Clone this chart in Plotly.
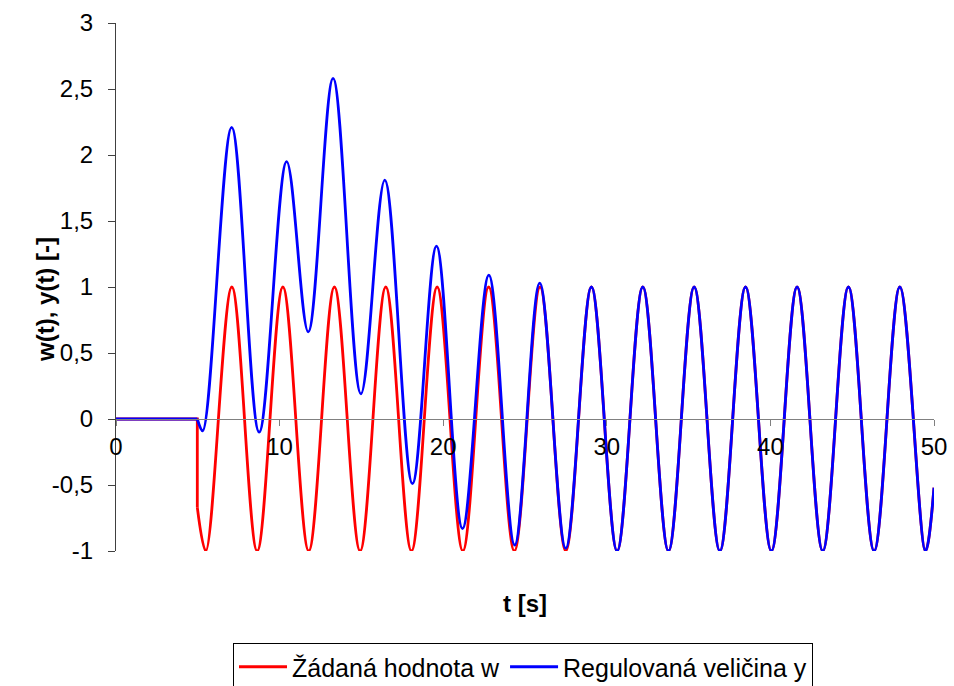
import plotly.graph_objects as go

# Reference signal w(t): zero until the step at T_STEP, then a sinusoid.
# Extremes (t, value) of the sinusoid, ending at the last sample t = 50.
T_STEP = 4.97
W_STEP_VALUE = -0.67
W_T = [4.97, 5.49, 7.08, 8.63, 10.20, 11.78, 13.35, 14.92, 16.49, 18.06,
       19.63, 21.20, 22.78, 24.35, 25.92, 27.49, 29.06, 30.63, 32.20, 33.77,
       35.34, 36.91, 38.48, 40.06, 41.63, 43.20, 44.77, 46.34, 47.91, 49.48,
       50.00]
W_VAL = [-0.67, -1.00, 1.00, -1.00, 1.00, -1.00, 1.00, -1.00, 1.00, -1.00,
         1.00, -1.00, 1.00, -1.00, 1.00, -1.00, 1.00, -1.00, 1.00, -1.00,
         1.00, -1.00, 1.00, -1.00, 1.00, -1.00, 1.00, -1.00, 1.00, -1.00,
         -0.52]

# Controlled output y(t): extremes of the transient and of the settled response.
Y_T = [4.97, 5.30, 7.07, 8.75, 10.43, 11.75, 13.27, 14.97, 16.43, 18.12,
       19.59, 21.18, 22.79, 24.37, 25.90, 27.49, 29.06, 30.63, 32.20, 33.77,
       35.34, 36.91, 38.48, 40.06, 41.63, 43.20, 44.77, 46.34, 47.91, 49.48,
       50.00]
Y_VAL = [0.00, -0.09, 2.21, -0.10, 1.95, 0.66, 2.58, 0.19, 1.81, -0.49,
         1.31, -0.83, 1.09, -0.955, 1.03, -0.98, 1.00, -1.00, 1.00, -1.00,
         1.00, -1.00, 1.00, -1.00, 1.00, -1.00, 1.00, -1.00, 1.00, -1.00,
         -0.52]

X_TICKS = [0, 10, 20, 30, 40, 50]
X_TICK_LABELS = ["0", "10", "20", "30", "40", "50"]
Y_TICKS = [-1, -0.5, 0, 0.5, 1, 1.5, 2, 2.5, 3]
Y_TICK_LABELS = ["-1", "-0,5", "0", "0,5", "1", "1,5", "2", "2,5", "3"]

RED = "#FF0000"
BLUE = "#0000FF"
FONT = "Liberation Sans, Arial, sans-serif"
LW = 2.8

fig = go.Figure()

# w(t): flat part and the step, then the sinusoid
fig.add_trace(go.Scatter(
    x=[0, T_STEP, T_STEP], y=[0, 0, W_STEP_VALUE], mode="lines",
    line=dict(color=RED, width=LW), legendgroup="w", showlegend=False,
    hoverinfo="skip"))
fig.add_trace(go.Scatter(
    x=W_T, y=W_VAL, mode="lines", name="Žádaná hodnota w",
    line=dict(color=RED, width=LW, shape="spline", smoothing=1),
    legendgroup="w"))

# y(t): flat part, then the response
fig.add_trace(go.Scatter(
    x=[0, T_STEP], y=[0, 0], mode="lines",
    line=dict(color=BLUE, width=LW), legendgroup="y", showlegend=False,
    hoverinfo="skip"))
fig.add_trace(go.Scatter(
    x=Y_T, y=Y_VAL, mode="lines", name="Regulovaná veličina y",
    line=dict(color=BLUE, width=LW, shape="spline", smoothing=1),
    legendgroup="y"))

W, H = 954, 686
L, R, T, B = 116, 20, 23, 135
plot_w = W - L - R
plot_h = H - T - B


def px_x(px):
    return (px - L) / plot_w


def px_y(py):
    return (H - B - py) / plot_h


fig.update_layout(
    width=W, height=H,
    margin=dict(l=L, r=R, t=T, b=B, pad=0, autoexpand=False),
    paper_bgcolor="white", plot_bgcolor="white",
    font=dict(family=FONT, size=24, color="black"),
    showlegend=True,
    legend=dict(
        orientation="h",
        xref="container", x=233 / W, xanchor="left",
        yref="container", y=(H - 643) / H, yanchor="top",
        bordercolor="black", borderwidth=1, bgcolor="white",
        font=dict(family=FONT, size=25, color="black"),
        itemwidth=48, traceorder="normal",
    ),
    xaxis=dict(
        range=[0, 50], anchor="free", position=px_y(419), automargin=False,
        tickvals=X_TICKS, ticktext=X_TICK_LABELS,
        showline=True, linecolor="#808080", linewidth=1,
        ticks="outside", ticklen=6, tickcolor="#808080", tickwidth=1,
        showgrid=False, zeroline=False,
        tickfont=dict(family=FONT, size=24, color="black"),
    ),
    yaxis=dict(
        range=[-1, 3], automargin=False,
        tickvals=Y_TICKS, ticktext=Y_TICK_LABELS,
        showline=True, linecolor="#404040", linewidth=1,
        ticks="outside", ticklen=7, tickcolor="#404040", tickwidth=1,
        showgrid=False, zeroline=False,
        tickfont=dict(family=FONT, size=24, color="black"),
        ticklabelstandoff=10,
    ),
    annotations=[
        dict(text="<b>t [s]</b>", xref="paper", yref="paper",
             x=0.5, y=px_y(603), xanchor="center", yanchor="middle",
             showarrow=False, font=dict(family=FONT, size=24, color="black")),
        dict(text="<b>w(t), y(t) [-]</b>", xref="paper", yref="paper",
             x=px_x(45), y=px_y(300), xanchor="center", yanchor="middle",
             textangle=-90, showarrow=False,
             font=dict(family=FONT, size=24, color="black")),
    ],
)

fig.write_html("out.html")
